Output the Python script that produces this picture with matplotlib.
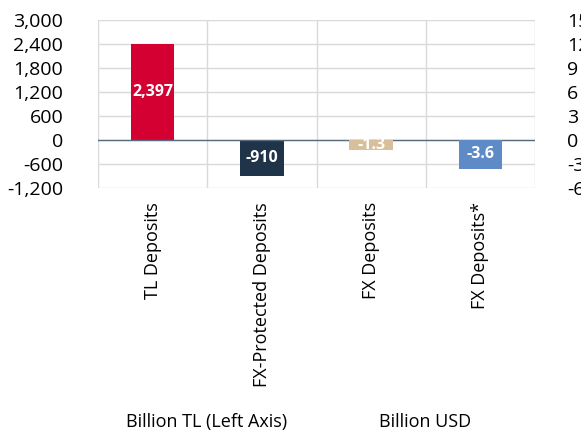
import matplotlib.pyplot as plt
import numpy as np

# Dados
categorias = ['TL Deposits', 'FX-Protected Deposits', 'FX Deposits', 'FX Deposits*']
valores_tl = [2397, -910]        # eixo esquerdo (bilhões de TL)
valores_usd = [-1.3, -3.6]       # eixo direito (bilhões de USD)
rotulos_tl = ['2,397', '-910']
rotulos_usd = ['-1.3', '-3.6']
cores_tl = ['#D50032', '#1F3349']
cores_usd = ['#D8BF9B', '#5E8AC7']
ticks_esq = [-1200, -600, 0, 600, 1200, 1800, 2400, 3000]
ticks_dir = [-6, -3, 0, 3, 6, 9, 12, 15]
legenda = ['Billion TL (Left Axis)', 'Billion USD']

plt.rcParams['font.family'] = ['Open Sans', 'DejaVu Sans']

fig = plt.figure(figsize=(5.81, 4.33), dpi=100)
ax = fig.add_axes([98 / 581, 1 - 188 / 433, (535 - 98) / 581, (188 - 20) / 433])
ax2 = ax.twinx()

x = np.arange(len(categorias)) + 0.5
largura = 0.4

b1 = ax.bar(x[:2], valores_tl, width=largura, color=cores_tl, zorder=3)
b2 = ax2.bar(x[2:], valores_usd, width=largura, color=cores_usd, zorder=3)
ax.bar_label(b1, labels=rotulos_tl, label_type='center', color='white',
             fontweight='bold', fontsize=11.5)
ax2.bar_label(b2, labels=rotulos_usd, label_type='center', color='white',
              fontweight='bold', fontsize=11.5)

ax.set_xlim(0, 4)
ax.set_ylim(-1200, 3000)
ax2.set_ylim(-6, 15)
ax.set_yticks(ticks_esq)
ax.set_yticklabels([f'{t:,}' for t in ticks_esq], fontsize=14)
ax2.set_yticks(ticks_dir)
ax2.set_yticklabels([str(t) for t in ticks_dir], fontsize=14)

ax.set_xticks(x)
ax.set_xticklabels(categorias, rotation=90, fontsize=13, va='top')
ax.set_xticks(np.arange(0, 5), minor=True)
ax.tick_params(axis='x', which='both', length=0, pad=10)
ax.tick_params(axis='y', length=0, pad=25)
ax2.tick_params(axis='y', length=0, pad=23)

ax.grid(True, which='minor', axis='x', color='#D9D9D9', lw=1, zorder=0)
ax.grid(True, which='major', axis='y', color='#D9D9D9', lw=1, zorder=0)
ax.axhline(0, color='#596B7E', lw=1, zorder=4)
for s in list(ax.spines.values()) + list(ax2.spines.values()):
    s.set_visible(False)
ax.set_axisbelow(True)

fig.text(207 / 581, 1 - 422 / 433, legenda[0], ha='center', va='center', fontsize=13)
fig.text(425 / 581, 1 - 422 / 433, legenda[1], ha='center', va='center', fontsize=13)

fig.savefig('out.png', dpi=100)
